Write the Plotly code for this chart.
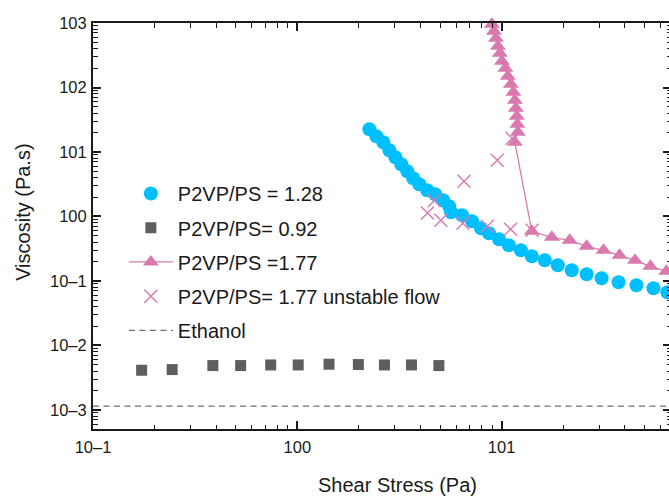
import plotly.graph_objects as go

# ---- data ----
blue_x = [2.253, 2.437, 2.636, 2.820, 3.017, 3.227, 3.452, 3.692, 3.950, 4.322, 4.727, 5.172,
          5.534, 5.659, 6.402, 7.163, 7.925, 8.670, 9.701, 10.85, 12.42, 14.05, 16.26, 18.83,
          22.03, 26.07, 30.86, 37.35, 45.71, 55.34, 64.75]
blue_y = [22.49, 17.51, 14.14, 10.63, 8.277, 6.447, 5.022, 3.910, 3.157, 2.548, 2.209, 1.783,
          1.439, 1.162, 1.044, 0.843, 0.656, 0.549, 0.443, 0.358, 0.299, 0.2415, 0.2094, 0.1751,
          0.1465, 0.1270, 0.1101, 0.0954, 0.0858, 0.0771, 0.0668]

sq_x = [0.173, 0.244, 0.386, 0.528, 0.741, 1.01, 1.43, 1.99, 2.67, 3.62, 4.93]
sq_y = [0.00413, 0.00423, 0.00488, 0.00488, 0.00499, 0.00499, 0.00512, 0.00506, 0.00499, 0.00499, 0.00488]

tri_x = [8.968, 9.170, 9.380, 9.594, 9.811, 10.03, 10.43, 10.73, 11.10, 11.42, 11.61, 11.75,
         11.87, 11.94, 12.01, 11.61, 14.05, 17.60, 21.54, 26.07, 31.55, 37.78, 44.96, 53.49, 64.02]
tri_y = [954, 743, 579, 435, 339, 255, 198.5, 149, 112, 84.3, 63.3, 47.6,
         35.8, 26.9, 20.2, 14.1, 0.5894, 0.4760, 0.4276, 0.3451, 0.2992, 0.2503, 0.2094, 0.1690, 0.1414]

cross_x = [4.336, 4.676, 5.040, 6.460, 6.548, 8.507, 9.517, 11.06, 11.26, 14.10]
cross_y = [1.133, 1.751, 0.873, 0.784, 3.513, 0.705, 7.434, 0.633, 16.31, 0.611]

eth_x = [0.1, 80]
eth_y = [0.00115, 0.00115]

decades = [0.001, 0.01, 0.1, 1, 10, 100, 1000]
y_ticktext = ["10\u20133", "10\u20132", "10\u20131", "100", "101", "102", "103"]
x_decades = [0.1, 1, 10]
x_ticktext = ["10\u20131", "100", "101"]

BLUE = "#00BFFF"
GRAY = "#5E5E5E"
PINK = "#D97AAE"
FONT = "Liberation Sans"

fig = go.Figure()
fig.add_trace(go.Scatter(x=blue_x, y=blue_y, mode="markers", name="P2VP/PS = 1.28",
                         legendgroup="a", cliponaxis=False,
                         marker=dict(symbol="circle", size=14, color=BLUE)))
fig.add_trace(go.Scatter(x=sq_x, y=sq_y, mode="markers", name="P2VP/PS= 0.92",
                         legendgroup="b",
                         marker=dict(symbol="square", size=11, color=GRAY)))
fig.add_trace(go.Scatter(x=tri_x, y=tri_y, mode="lines+markers", name="P2VP/PS =1.77",
                         legendgroup="c", cliponaxis=False,
                         line=dict(color=PINK, width=1.3),
                         marker=dict(symbol="triangle-up", size=14, color=PINK)))
fig.add_trace(go.Scatter(x=cross_x, y=cross_y, mode="markers", name="P2VP/PS= 1.77 unstable flow",
                         legendgroup="d",
                         marker=dict(symbol="x-thin-open", size=13, color=PINK,
                                     line=dict(color=PINK, width=1.4))))
fig.add_trace(go.Scatter(x=eth_x, y=eth_y, mode="lines", name="Ethanol",
                         legendgroup="e",
                         line=dict(color="#6E6E6E", width=1.3, dash="6px,4.5px")))

minor_x = [m * d for d in [0.1, 1, 10] for m in range(2, 10)]
minor_y = [m * d for d in [0.0001, 0.001, 0.01, 0.1, 1, 10, 100] for m in range(2, 10)]

axis_common = dict(type="log", showgrid=False, zeroline=False, showline=True,
                   linecolor="#1a1a1a", linewidth=2, mirror="ticks",
                   ticks="inside", ticklen=8, tickwidth=1.5, tickcolor="#1a1a1a",
                   tickfont=dict(family=FONT, size=16.5, color="#1a1a1a"))

fig.update_xaxes(**axis_common, range=[-1, 1.829], tickmode="array",
                 tickvals=x_decades, ticktext=x_ticktext, ticklabelstandoff=2,
                 minor=dict(tickmode="array", tickvals=minor_x, ticks="inside",
                            ticklen=4.5, tickwidth=1.3, tickcolor="#1a1a1a"))
fig.update_yaxes(**axis_common, range=[-3.295, 3.0], tickmode="array",
                 tickvals=decades, ticktext=y_ticktext, ticklabelstandoff=1,
                 minor=dict(tickmode="array", tickvals=minor_y, ticks="inside",
                            ticklen=4.5, tickwidth=1.3, tickcolor="#1a1a1a"))

fig.add_annotation(text="Shear Stress (Pa)", xref="paper", yref="paper",
                   x=0.5276, y=-0.137, xanchor="center", yanchor="middle",
                   showarrow=False, font=dict(family=FONT, size=20, color="#1a1a1a"))
fig.add_annotation(text="Viscosity (Pa.s)", xref="paper", yref="paper",
                   x=-0.1224, y=0.533, xanchor="center", yanchor="middle", textangle=-90,
                   showarrow=False, font=dict(family=FONT, size=20, color="#1a1a1a"))

fig.update_layout(width=680, height=496,
                  margin=dict(l=93, r=7, t=23, b=67, pad=0),
                  paper_bgcolor="white", plot_bgcolor="white",
                  showlegend=True,
                  legend=dict(x=0.0534, y=0.628, xanchor="left", yanchor="top",
                              bgcolor="rgba(0,0,0,0)", tracegroupgap=5.2,
                              font=dict(family=FONT, size=20, color="#1a1a1a"),
                              itemwidth=44))

fig.write_html("out.html", config={"displayModeBar": False},
               post_script="document.body.style.margin='0';document.body.style.overflow='hidden';document.documentElement.style.overflow='hidden';")
